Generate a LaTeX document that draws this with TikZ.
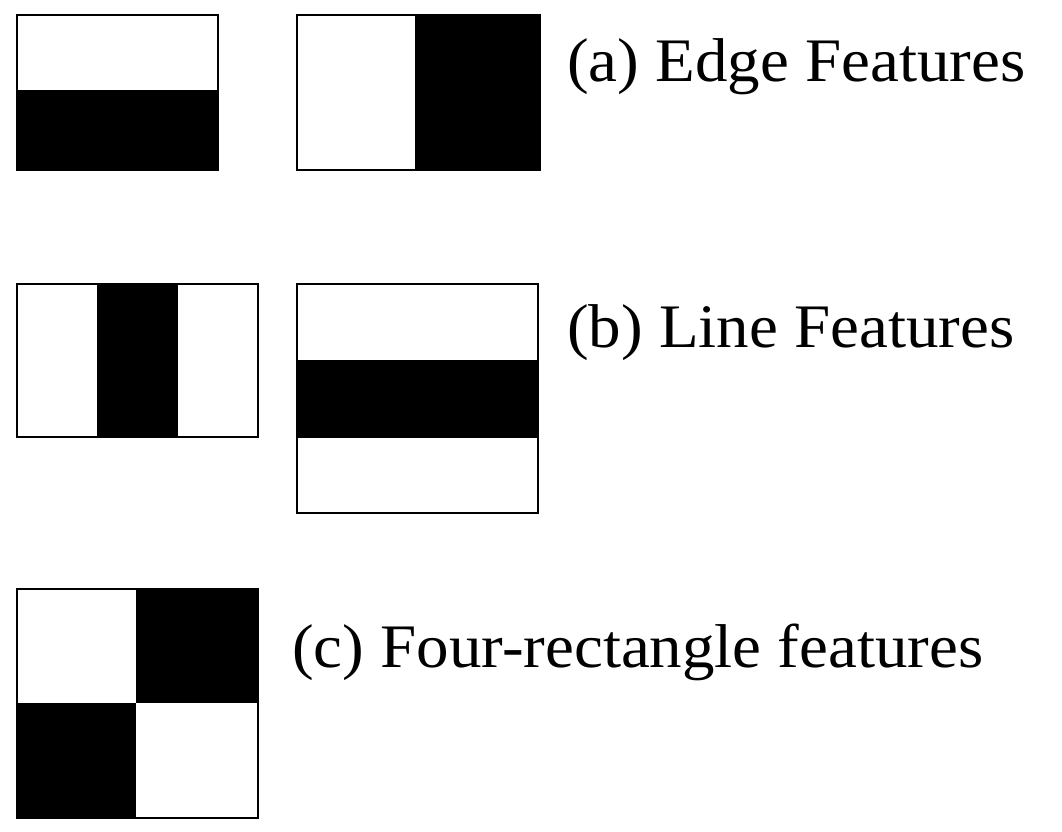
\documentclass[tikz,border=0pt]{standalone}
\usepackage{fontspec}
\setmainfont{Liberation Serif}[FakeStretch=1.05]
\usetikzlibrary{positioning}

\begin{document}
\begin{tikzpicture}[x=0.025cm,y=-0.025cm,feat/.style={draw=black,line width=2pt},dark/.style={fill=black},lbl/.style={anchor=base west,inner sep=0pt,font=\fontsize{44}{50}\selectfont}]
\useasboundingbox (0,0) rectangle (1062,832);
% edge features
\fill[dark] (17,90) rectangle (218,170);
\draw[feat] (17,15) rectangle (218,170);
\fill[dark] (415,15) rectangle (540,170);
\draw[feat] (297,15) rectangle (540,170);
\node[lbl] (edge) at (567,82) {(a) Edge Features};
% line features
\fill[dark] (97,284) rectangle (178,437);
\draw[feat] (17,284) rectangle (258,437);
\fill[dark] (297,360) rectangle (538,438);
\draw[feat] (297,284) rectangle (538,513);
\node[lbl] (line) at (567,348) {(b) Line Features};
% four-rectangle features
\fill[dark] (136,589) rectangle (258,703);
\fill[dark] (17,703) rectangle (136,818);
\draw[feat] (17,589) rectangle (258,818);
\node[lbl] (four) at (292,667) {(c) Four-rectangle features};
\end{tikzpicture}
\end{document}
